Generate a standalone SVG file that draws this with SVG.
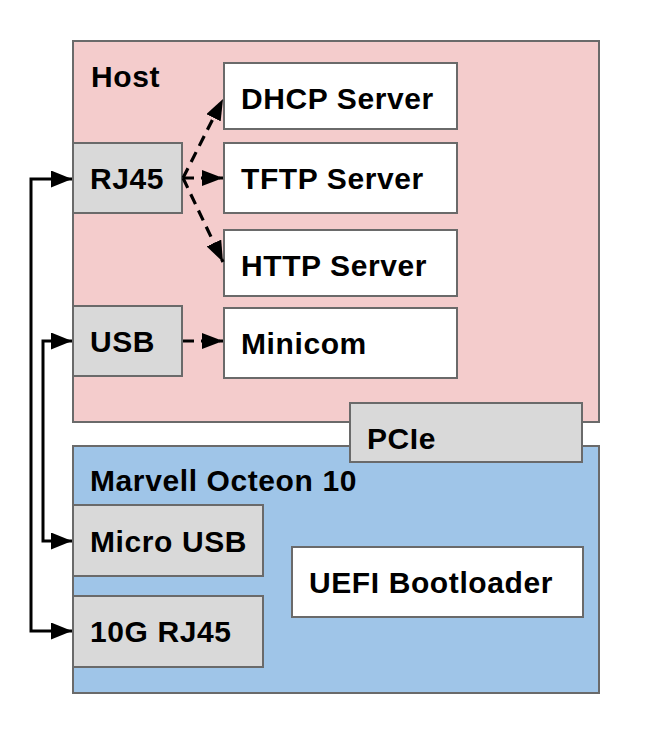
<svg xmlns="http://www.w3.org/2000/svg" width="653" height="729" viewBox="0 0 653 729">
<style>
  .box { stroke: #6a6a6a; stroke-width: 2; }
  .host { fill: #f4cccc; }
  .board { fill: #9fc5e8; }
  .port { fill: #d9d9d9; }
  .svc { fill: #ffffff; }
  text { font-family: "Liberation Sans", Arial, sans-serif; font-weight: bold; font-size: 30px; letter-spacing: 0.6px; fill: #000000; }
  .solid { fill: none; stroke: #000; stroke-width: 3; }
  .dash { fill: none; stroke: #000; stroke-width: 3.2; stroke-dasharray: 11 7; }
</style>
<defs>
  <marker id="arr" viewBox="0 0 21 17" refX="21" refY="8.5" markerWidth="21" markerHeight="17" markerUnits="userSpaceOnUse" orient="auto-start-reverse">
    <path d="M0,0 L21,8.5 L0,17 z" fill="#000"/>
  </marker>
  <marker id="arrd" viewBox="0 0 21 16" refX="21" refY="8" markerWidth="21" markerHeight="16" markerUnits="userSpaceOnUse" orient="auto">
    <path d="M0,0 L21,8 L0,16 z" fill="#000"/>
  </marker>
</defs>

<g id="host">
  <rect class="box host" x="73" y="41" width="526" height="381"/>
  <text x="91" y="87">Host</text>
</g>
<g id="board">
  <rect class="box board" x="73" y="446" width="526" height="247"/>
  <text x="90" y="491">Marvell Octeon 10</text>
</g>
<g id="pcie">
  <rect class="box port" x="350" y="403" width="232" height="59"/>
  <text x="367" y="449">PCIe</text>
</g>
<g id="rj45">
  <rect class="box port" x="73" y="143" width="109" height="70"/>
  <text x="90" y="189">RJ45</text>
</g>
<g id="usb">
  <rect class="box port" x="73" y="306" width="109" height="70"/>
  <text x="90" y="352">USB</text>
</g>
<g id="dhcp">
  <rect class="box svc" x="224" y="63" width="233" height="66"/>
  <text x="241" y="109">DHCP Server</text>
</g>
<g id="tftp">
  <rect class="box svc" x="224" y="143" width="233" height="70"/>
  <text x="241" y="189">TFTP Server</text>
</g>
<g id="http">
  <rect class="box svc" x="224" y="230" width="233" height="66"/>
  <text x="241" y="276">HTTP Server</text>
</g>
<g id="minicom">
  <rect class="box svc" x="224" y="308" width="233" height="70"/>
  <text x="241" y="354">Minicom</text>
</g>
<g id="microusb">
  <rect class="box port" x="73" y="505" width="190" height="71"/>
  <text x="90" y="552">Micro USB</text>
</g>
<g id="rj45-10g">
  <rect class="box port" x="73" y="596" width="190" height="71"/>
  <text x="90" y="642">10G RJ45</text>
</g>
<g id="uefi">
  <rect class="box svc" x="292" y="547" width="291" height="70"/>
  <text x="309" y="593">UEFI Bootloader</text>
</g>

<g id="connectors">
  <path class="solid" d="M72,179 H31 V631 H72" marker-start="url(#arr)" marker-end="url(#arr)"/>
  <path class="solid" d="M72,341 H43 V541 H72" marker-start="url(#arr)" marker-end="url(#arr)"/>
  <path class="dash" d="M183,178 L223,99" marker-end="url(#arrd)"/>
  <path class="dash" d="M183,178 L223,178" marker-end="url(#arrd)"/>
  <path class="dash" d="M183,178 L223,262" marker-end="url(#arrd)"/>
  <path class="dash" d="M183,341 L223,341" marker-end="url(#arrd)"/>
</g>
</svg>
